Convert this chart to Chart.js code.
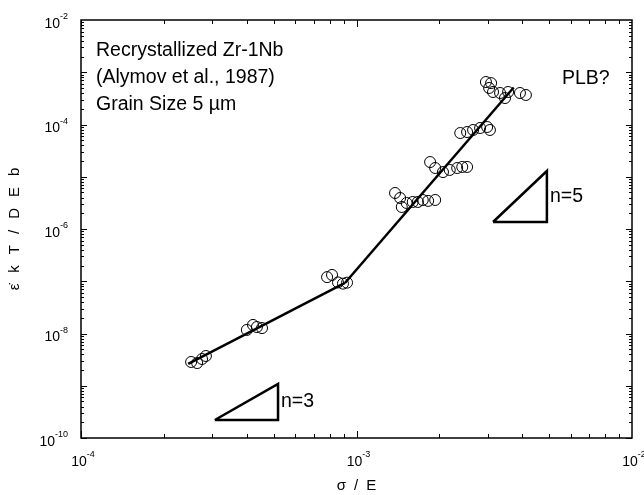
<!DOCTYPE html>
<html>
<head>
<meta charset="utf-8">
<script src="https://cdn.jsdelivr.net/npm/chart.js@4/dist/chart.umd.min.js"></script>
<style>
  html, body { margin: 0; padding: 0; background: #fff; }
  #wrap { width: 644px; height: 495px; }
</style>
</head>
<body>
<div id="wrap"><canvas id="c" width="644" height="495"></canvas></div>
<script>
// Normalised stress sigma/E for each creep test
const stressRatio = [
  2.51e-4, 2.64e-4, 2.75e-4, 2.84e-4,
  4.00e-4, 4.21e-4, 4.35e-4, 4.54e-4,
  7.82e-4, 8.15e-4, 8.57e-4, 8.93e-4, 9.24e-4,
  1.38e-3, 1.44e-3, 1.46e-3, 1.52e-3, 1.60e-3, 1.67e-3, 1.74e-3, 1.82e-3, 1.93e-3,
  1.85e-3, 1.93e-3, 2.06e-3, 2.18e-3, 2.32e-3, 2.42e-3, 2.52e-3,
  2.38e-3, 2.52e-3, 2.65e-3, 2.81e-3, 2.98e-3, 3.05e-3,
  2.95e-3, 3.08e-3, 3.03e-3, 3.13e-3, 3.32e-3, 3.46e-3, 3.55e-3, 3.92e-3, 4.12e-3
];
// Normalised strain rate (eps-dot kT / DEb) for the same tests
const strainRate = [
  2.85e-9, 2.72e-9, 3.25e-9, 3.71e-9,
  1.17e-8, 1.46e-8, 1.33e-8, 1.27e-8,
  1.20e-7, 1.32e-7, 9.5e-8, 9.0e-8, 9.4e-8,
  4.89e-6, 3.92e-6, 2.64e-6, 3.15e-6, 3.29e-6, 3.29e-6, 3.59e-6, 3.45e-6, 3.59e-6,
  1.91e-5, 1.47e-5, 1.23e-5, 1.35e-5, 1.47e-5, 1.54e-5, 1.54e-5,
  6.87e-5, 7.18e-5, 7.85e-5, 8.57e-5, 8.96e-5, 7.85e-5,
  6.5e-4, 6.2e-4, 5.0e-4, 4.19e-4, 4.01e-4, 3.21e-4, 4.19e-4, 4.01e-4, 3.67e-4
];

// Fitted power-law segments (low-stress n~3 and high-stress n~5 regimes)
const fitLowStress  = [2.45e-4, 9.08e-4];
const fitLowRate    = [2.61e-9, 9.27e-8];
const fitHighStress = [9.08e-4, 3.72e-3];
const fitHighRate   = [9.27e-8, 5.1e-4];

// Slope guide triangles
const slope3Stress = [3.06e-4, 5.19e-4, 5.19e-4, 3.06e-4];
const slope3Rate   = [2.21e-10, 2.21e-10, 1.08e-9, 2.21e-10];
const slope5Stress = [3.13e-3, 4.91e-3, 4.91e-3, 3.13e-3];
const slope5Rate   = [1.36e-6, 1.36e-6, 1.29e-5, 1.36e-6];

// Axis ranges and labelled decades
const xRange = [1e-4, 1e-2];
const yRange = [1e-10, 1e-2];
const xLabelExponents = [-4, -3, -2];
const yLabelExponents = [-10, -8, -6, -4, -2];

const annotationLines = ['Recrystallized Zr-1Nb', '(Alymov et al., 1987)', 'Grain Size 5 \u00b5m'];
const xTitleParts = ['\u03c3', '/', 'E'];
const yTitleParts = ['\u03b5\u0307', 'k', 'T', '/', 'D', 'E', 'b'];

const FONT = '"Liberation Sans", Arial, Helvetica, sans-serif';

function pairs(xs, ys) { return xs.map((x, i) => ({ x: x, y: ys[i] })); }

function lineSet(xs, ys, width) {
  return {
    type: 'line', data: pairs(xs, ys), showLine: true, fill: false,
    borderColor: '#000', borderWidth: width, pointRadius: 0, tension: 0,
    borderJoinStyle: 'miter', borderCapStyle: 'butt'
  };
}

// Draws "10" with a superscript exponent; anchor is the centre of the base text
function drawPower(ctx, cx, cy, exp, align) {
  const base = '10', sup = String(exp);
  ctx.font = '14px ' + FONT;
  const wb = ctx.measureText(base).width;
  ctx.font = '9px ' + FONT;
  const ws = ctx.measureText(sup).width;
  let left;
  if (align === 'right') left = cx - wb - ws;
  else left = cx - wb / 2;
  ctx.textBaseline = 'middle';
  ctx.textAlign = 'left';
  ctx.font = '14px ' + FONT;
  ctx.fillText(base, left, cy);
  ctx.font = '9px ' + FONT;
  ctx.fillText(sup, left + wb, cy - 7);
}

// Draws words separated by a fixed gap, centred on (cx, cy)
function drawSpaced(ctx, parts, gap, cx, cy) {
  const widths = parts.map(p => ctx.measureText(p).width);
  const total = widths.reduce((s, w) => s + w, 0) + gap * (parts.length - 1);
  let x = cx - total / 2;
  ctx.textAlign = 'left';
  ctx.textBaseline = 'middle';
  parts.forEach((p, i) => { ctx.fillText(p, x, cy); x += widths[i] + gap; });
}

const framePlugin = {
  id: 'frameAndLabels',
  afterDraw(chart) {
    const ctx = chart.ctx;
    const a = chart.chartArea;
    const xs = chart.scales.x, ys = chart.scales.y;
    ctx.save();
    ctx.strokeStyle = '#000';
    ctx.fillStyle = '#000';

    // frame
    ctx.lineWidth = 1.5;
    ctx.strokeRect(a.left, a.top, a.right - a.left, a.bottom - a.top);

    // inward ticks on all four sides
    ctx.lineWidth = 1;
    ctx.beginPath();
    for (let e = -4; e < -2; e++) {
      for (let m = 1; m <= 9; m++) {
        const px = Math.round(xs.getPixelForValue(m * Math.pow(10, e))) + 0.5;
        const len = m === 1 ? 7 : 4;
        ctx.moveTo(px, a.bottom); ctx.lineTo(px, a.bottom - len);
        ctx.moveTo(px, a.top); ctx.lineTo(px, a.top + len);
      }
    }
    for (let e = -10; e < -2; e++) {
      for (let m = 1; m <= 9; m++) {
        const py = Math.round(ys.getPixelForValue(m * Math.pow(10, e))) + 0.5;
        const len = m === 1 ? 6 : 3;
        ctx.moveTo(a.left, py); ctx.lineTo(a.left + len, py);
        ctx.moveTo(a.right, py); ctx.lineTo(a.right - len, py);
      }
    }
    ctx.stroke();

    // tick labels
    xLabelExponents.forEach(e => {
      const px = xs.getPixelForValue(Math.pow(10, e));
      drawPower(ctx, px - 2, a.bottom + 24, e, 'center');
    });
    yLabelExponents.forEach(e => {
      const py = ys.getPixelForValue(Math.pow(10, e));
      drawPower(ctx, 68, py + 4, e, 'right');
    });

    // axis titles
    ctx.font = '15px ' + FONT;
    drawSpaced(ctx, xTitleParts, 8, (a.left + a.right) / 2, 486);
    ctx.save();
    ctx.translate(15, (a.top + a.bottom) / 2);
    ctx.rotate(-Math.PI / 2);
    drawSpaced(ctx, yTitleParts, 11, 0, 0);
    ctx.restore();

    // annotations
    ctx.font = '19.5px ' + FONT;
    ctx.textAlign = 'left';
    ctx.textBaseline = 'alphabetic';
    annotationLines.forEach((t, i) => ctx.fillText(t, 96, 56 + i * 27));
    ctx.fillText('PLB?', 562, 84);
    ctx.textBaseline = 'middle';
    const n3x = xs.getPixelForValue(slope3Stress[1]);
    const n3y = (ys.getPixelForValue(slope3Rate[0]) + ys.getPixelForValue(slope3Rate[2])) / 2;
    ctx.fillText('n=3', n3x + 3, n3y);
    const n5x = xs.getPixelForValue(slope5Stress[1]);
    const n5y = (ys.getPixelForValue(slope5Rate[0]) + ys.getPixelForValue(slope5Rate[2])) / 2;
    ctx.fillText('n=5', n5x + 3, n5y);
    ctx.restore();
  }
};

new Chart(document.getElementById('c'), {
  type: 'scatter',
  data: {
    datasets: [
      {
        data: pairs(stressRatio, strainRate),
        pointStyle: 'circle', pointRadius: 5.5, pointBorderWidth: 1,
        pointBorderColor: '#000', pointBackgroundColor: 'rgba(0,0,0,0)',
        showLine: false
      },
      lineSet(fitLowStress, fitLowRate, 2.5),
      lineSet(fitHighStress, fitHighRate, 2.5),
      lineSet(slope3Stress, slope3Rate, 2.5),
      lineSet(slope5Stress, slope5Rate, 2.5)
    ]
  },
  options: {
    responsive: false,
    animation: false,
    devicePixelRatio: 1,
    layout: { padding: { left: 81, right: 12, top: 20, bottom: 57 } },
    plugins: { legend: { display: false }, tooltip: { enabled: false } },
    scales: {
      x: { type: 'logarithmic', min: xRange[0], max: xRange[1], display: false },
      y: { type: 'logarithmic', min: yRange[0], max: yRange[1], display: false }
    }
  },
  plugins: [framePlugin]
});
</script>
</body>
</html>
